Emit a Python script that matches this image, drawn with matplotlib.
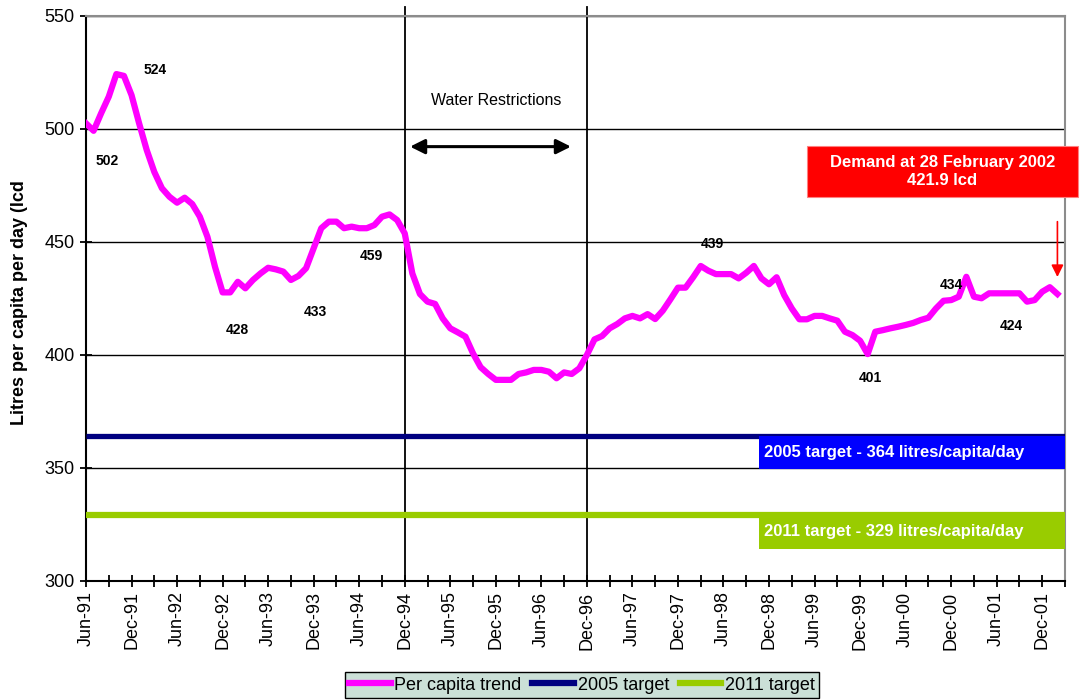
import numpy as np
import matplotlib.pyplot as plt
from matplotlib.patches import Rectangle
from matplotlib.lines import Line2D

plt.rcParams['font.family'] = ['Liberation Sans', 'DejaVu Sans']

# monthly per capita trend, Jun-91 .. Feb-02 (litres/capita/day)
per_capita = [
    502.5, 499.2, 507.0, 514.3, 524.3, 523.5, 515.0, 502.5, 490.7, 481.0,
    473.8, 470.0, 467.4, 469.6, 466.8, 461.2, 452.3, 439.0, 427.7, 427.7,
    432.4, 429.5, 433.2, 436.1, 438.6, 437.9, 436.9, 433.2, 435.0, 438.4,
    447.2, 456.1, 459.0, 459.0, 456.1, 456.8, 456.1, 456.1, 457.5, 461.2,
    462.2, 459.7, 453.8, 436.1, 427.0, 423.6, 422.6, 416.2, 411.8, 410.0,
    408.1, 400.7, 394.6, 391.6, 389.0, 389.0, 389.0, 391.6, 392.3, 393.4,
    393.4, 392.6, 389.7, 392.3, 391.6, 394.1, 400.0, 406.9, 408.4, 411.8,
    413.7, 416.2, 417.3, 416.2, 418.1, 415.9, 419.6, 424.6, 429.8, 429.8,
    434.4, 439.4, 437.3, 435.8, 435.8, 435.8, 433.9, 436.4, 439.4, 433.9,
    431.3, 434.4, 426.5, 420.6, 415.8, 415.8, 417.3, 417.3, 416.2, 415.2,
    410.3, 408.8, 406.3, 400.4, 410.3, 411.0, 411.8, 412.5, 413.3, 414.2,
    415.5, 416.5, 420.6, 424.0, 424.3, 425.8, 434.6, 425.8, 425.1, 427.3,
    427.3, 427.3, 427.3, 427.3, 423.6, 424.3, 428.0, 430.0, 427.0,
]
target_2005 = 364
target_2011 = 329

tick_labels = ["Jun-91", "Dec-91", "Jun-92", "Dec-92", "Jun-93", "Dec-93",
               "Jun-94", "Dec-94", "Jun-95", "Dec-95", "Jun-96", "Dec-96",
               "Jun-97", "Dec-97", "Jun-98", "Dec-98", "Jun-99", "Dec-99",
               "Jun-00", "Dec-00", "Jun-01", "Dec-01"]

# labelled values: (month index, label)
point_labels = [(9.1, 526, "524"), (2.8, 486, "502"), (19.9, 411, "428"),
                (30.2, 419, "433"), (37.6, 444, "459"), (82.6, 449, "439"),
                (103.3, 390, "401"), (114.0, 431, "434"), (121.9, 413, "424")]

restriction_start = 42   # Dec-94
restriction_end = 66     # Dec-96

n_months = 129
months = np.arange(len(per_capita))

fig = plt.figure(figsize=(10.81, 7.0), dpi=100)
ax = fig.add_axes([86 / 1081, 1 - 581 / 700, 979 / 1081, 565 / 700])

ax.set_xlim(0, n_months)
ax.set_ylim(300, 550)

# target lines
ax.plot([0, n_months], [target_2005, target_2005], color='#000080', lw=3.8,
        solid_capstyle='butt', zorder=3)
ax.plot([0, n_months], [target_2011, target_2011], color='#99CC00', lw=4.5,
        solid_capstyle='butt', zorder=3)

ax.plot(months, per_capita, color='#FF00FF', lw=4.5, solid_joinstyle='round',
        zorder=4)

# grid + restriction period
ax.set_yticks(np.arange(300, 551, 50))
ax.yaxis.grid(True, color='black', lw=1)
ax.set_axisbelow(True)
for m in (restriction_start, restriction_end):
    ax.plot([m, m], [300, 554], color='black', lw=1.3, clip_on=False, zorder=2)

ax.annotate('', xy=(42.7, 492.2), xytext=(63.9, 492.2),
            arrowprops=dict(arrowstyle='<|-|>', color='black', lw=2.2,
                            mutation_scale=22, shrinkA=0, shrinkB=0))
ax.text(54, 512.5, "Water Restrictions", fontsize=11.5, ha='center', va='center')

for x, y, s in point_labels:
    ax.text(x, y, s, fontsize=10, fontweight='bold', ha='center', va='center',
            zorder=5)

# target boxes
box_x0 = 88.7
ax.add_patch(Rectangle((box_x0, 349.6), n_months - box_x0, 364 - 349.6,
                       facecolor='#0000FF', edgecolor='none', zorder=3))
ax.text(box_x0 + 0.7, 356.8, "2005 target - 364 litres/capita/day", color='white',
        fontsize=12, fontweight='bold', va='center', ha='left', zorder=4)
ax.add_patch(Rectangle((box_x0, 314.2), n_months - box_x0, 329.2 - 314.2,
                       facecolor='#99CC00', edgecolor='none', zorder=3))
ax.text(box_x0 + 0.7, 321.7, "2011 target - 329 litres/capita/day", color='white',
        fontsize=12, fontweight='bold', va='center', ha='left', zorder=4)

# demand call-out
ax.add_patch(Rectangle((95.0, 469.9), 130.7 - 95.0, 492.5 - 469.9,
                       facecolor='#FF0000', edgecolor='#FF8080', lw=0.8,
                       clip_on=False, zorder=5))
ax.text(112.85, 481.2, "Demand at 28 February 2002\n421.9 lcd", color='white',
        fontsize=12, fontweight='bold', ha='center', va='center',
        linespacing=1.25, zorder=6)
ax.annotate('', xy=(128, 434.5), xytext=(128, 459),
            arrowprops=dict(arrowstyle='-|>', color='red', lw=1.2,
                            mutation_scale=18, shrinkA=0, shrinkB=0))

# axes
ax.set_xticks(np.arange(0, 127, 6))
ax.set_xticklabels(tick_labels, rotation=90, fontsize=13)
ax.set_xticks(np.arange(3, n_months + 1, 6), minor=True)
ax.tick_params(axis='x', which='both', direction='inout', length=8, width=1.3)
ax.tick_params(axis='y', direction='inout', length=9, width=1.3, labelsize=13)
for side in ('left', 'bottom'):
    ax.spines[side].set_color('black')
    ax.spines[side].set_linewidth(1.5)
for side in ('top', 'right'):
    ax.spines[side].set_color('#8C8C8C')
    ax.spines[side].set_linewidth(1.5)

fig.text(20 / 1081, 1 - 425 / 700, "Litres per capita per day (lcd", rotation=90,
         fontsize=13, fontweight='bold', ha='center', va='bottom')

handles = [Line2D([], [], color='#FF00FF', lw=4.5),
           Line2D([], [], color='#000080', lw=4.5),
           Line2D([], [], color='#99CC00', lw=4.5)]
leg = fig.legend(handles, ["Per capita trend", "2005 target", "2011 target"],
                 loc='upper center', bbox_to_anchor=(582 / 1081, 1 - 672 / 700),
                 ncol=3, fontsize=13, frameon=True, fancybox=False,
                 facecolor='#CBE0D7', edgecolor='black', framealpha=1,
                 handlelength=2.3, handletextpad=0.2, columnspacing=0.6,
                 borderpad=0.25, borderaxespad=0)
leg.get_frame().set_linewidth(1)

fig.savefig('out.png', dpi=100)
